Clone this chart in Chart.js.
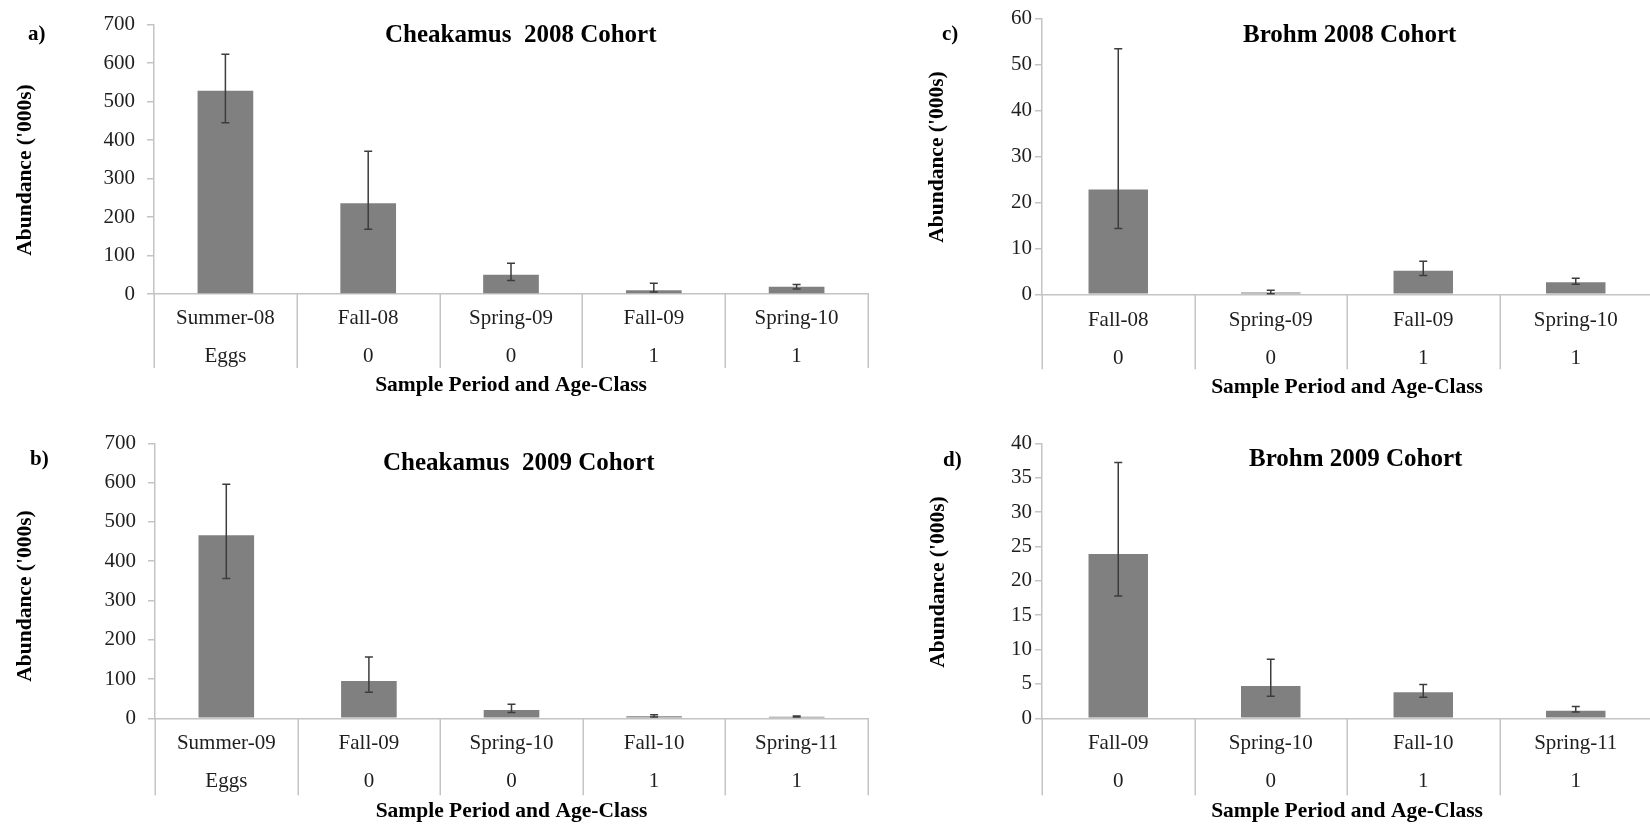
<!DOCTYPE html>
<html><head><meta charset="utf-8">
<script src="https://cdn.jsdelivr.net/npm/chart.js@4/dist/chart.umd.min.js"></script>
<style>
html,body{margin:0;padding:0;width:1650px;height:824px;overflow:hidden;background:#fff}
canvas{position:absolute}
</style></head><body>
<canvas id="ca"></canvas>
<canvas id="cb"></canvas>
<canvas id="cc"></canvas>
<canvas id="cd"></canvas>
<script>
// ---------- data ----------
const panelLabels = ['a)', 'b)', 'c)', 'd)'];
const titles = ['Cheakamus  2008 Cohort', 'Cheakamus  2009 Cohort', 'Brohm 2008 Cohort', 'Brohm 2009 Cohort'];
const yAxisTitle = "Abundance ('000s)";
const xAxisTitle = 'Sample Period and Age-Class';

const periodsA = ['Summer-08', 'Fall-08', 'Spring-09', 'Fall-09', 'Spring-10'];
const agesA    = ['Eggs', '0', '0', '1', '1'];
const valuesA  = [528, 236, 50, 10, 19];
const lowA     = [445, 168, 35, 5, 13];
const highA    = [623, 371, 80, 28, 25];

const periodsB = ['Summer-09', 'Fall-09', 'Spring-10', 'Fall-10', 'Spring-11'];
const agesB    = ['Eggs', '0', '0', '1', '1'];
const valuesB  = [466, 95, 21, 5, 4];
const lowB     = [356, 66, 15, 3, 3];
const highB    = [596, 156, 36, 9, 6];

const periodsC = ['Fall-08', 'Spring-09', 'Fall-09', 'Spring-10'];
const agesC    = ['0', '0', '1', '1'];
const valuesC  = [22.8, 0.4, 5.1, 2.6];
const lowC     = [14.3, 0.1, 4.1, 2.2];
const highC    = [53.4, 0.9, 7.2, 3.5];

const periodsD = ['Fall-09', 'Spring-10', 'Fall-10', 'Spring-11'];
const agesD    = ['0', '0', '1', '1'];
const valuesD  = [23.9, 4.7, 3.8, 1.1];
const lowD     = [17.8, 3.2, 3.05, 0.9];
const highD    = [37.2, 8.6, 4.9, 1.7];

const yMaxes = [700, 700, 60, 40];
const ySteps = [100, 100, 10, 5];

// ---------- layout / style ----------
const FONT = "'Liberation Serif', 'Times New Roman', serif";
const AXIS = '#c4c4c4';
const layouts = [
  {id:'ca', left:0,   top:0,   w:880, h:400, padT:17,   padR:12, yW:154, xH:106,   tickPad:12, xLabPad:5, xTitlePad:2, divLen:74,
   lab:{x:28, y:40}, tit:{x:385, y:42}, yt:{x:25, y:170}},
  {id:'cb', left:0,   top:412, w:880, h:412, padT:31.3, padR:12, yW:155, xH:105.7, tickPad:12, xLabPad:6, xTitlePad:0, divLen:77,
   lab:{x:30, y:53}, tit:{x:383, y:58}, yt:{x:25, y:184}},
  {id:'cc', left:880, top:0,   w:780, h:400, padT:18.3, padR:8,  yW:162, xH:105.7, tickPad:3,  xLabPad:7, xTitlePad:0, divLen:75,
   lab:{x:62, y:40}, tit:{x:363, y:42}, yt:{x:57, y:157}},
  {id:'cd', left:880, top:412, w:780, h:412, padT:31.3, padR:8,  yW:162, xH:105.7, tickPad:3,  xLabPad:6, xTitlePad:0, divLen:77,
   lab:{x:63, y:54}, tit:{x:369, y:54}, yt:{x:58, y:170}}
];
const datasets = [
  [periodsA, agesA, valuesA, lowA, highA],
  [periodsB, agesB, valuesB, lowB, highB],
  [periodsC, agesC, valuesC, lowC, highC],
  [periodsD, agesD, valuesD, lowD, highD]
];

const decorPlugin = {
  id: 'decor',
  afterDatasetsDraw(chart, args, opts) {
    const ctx = chart.ctx, xs = chart.scales.x, ys = chart.scales.y;
    ctx.save();
    ctx.strokeStyle = '#3c3c3c';
    ctx.lineWidth = 1.5;
    opts.low.forEach((lo, i) => {
      const x = xs.getPixelForValue(i);
      const y1 = ys.getPixelForValue(lo), y2 = ys.getPixelForValue(opts.high[i]);
      ctx.beginPath();
      ctx.moveTo(x, y1); ctx.lineTo(x, y2);
      ctx.moveTo(x - 4, y1); ctx.lineTo(x + 4, y1);
      ctx.moveTo(x - 4, y2); ctx.lineTo(x + 4, y2);
      ctx.stroke();
    });
    ctx.restore();
  },
  afterDraw(chart, args, opts) {
    const ctx = chart.ctx, xs = chart.scales.x, area = chart.chartArea;
    const n = chart.data.labels.length;
    ctx.save();
    ctx.strokeStyle = AXIS;
    ctx.lineWidth = 1.5;
    for (let i = 0; i <= n; i++) {
      const bx = Math.round(xs.getPixelForValue(i - 0.5)) + 0.25;
      ctx.beginPath();
      ctx.moveTo(bx, area.bottom);
      ctx.lineTo(bx, area.bottom + opts.divLen);
      ctx.stroke();
    }
    ctx.fillStyle = '#000';
    ctx.textBaseline = 'alphabetic';
    ctx.textAlign = 'left';
    ctx.font = 'bold 21px ' + FONT;
    ctx.fillText(opts.label, opts.lab.x, opts.lab.y);
    ctx.font = 'bold 25px ' + FONT;
    ctx.fillText(opts.title, opts.tit.x, opts.tit.y);
    // y-axis title (rotated, reading bottom to top)
    ctx.translate(opts.yt.x, opts.yt.y);
    ctx.rotate(-Math.PI / 2);
    ctx.textAlign = 'center';
    ctx.textBaseline = 'middle';
    ctx.font = 'bold 21.5px ' + FONT;
    ctx.fillText(opts.yTitle, 0, 0);
    ctx.restore();
  }
};

layouts.forEach((L, k) => {
  const [periods, ages, values, low, high] = datasets[k];
  const cv = document.getElementById(L.id);
  cv.width = L.w; cv.height = L.h;
  cv.style.left = L.left + 'px'; cv.style.top = L.top + 'px';
  cv.style.width = L.w + 'px'; cv.style.height = L.h + 'px';
  new Chart(cv, {
    type: 'bar',
    data: {
      labels: periods.map((p, i) => [p, ages[i]]),
      datasets: [{
        data: values,
        backgroundColor: '#808080',
        borderWidth: 0,
        categoryPercentage: 1,
        barPercentage: 0.39
      }]
    },
    options: {
      responsive: false,
      animation: false,
      devicePixelRatio: 1,
      layout: {padding: {top: L.padT, right: L.padR, left: 0, bottom: 0}},
      plugins: {
        legend: {display: false},
        tooltip: {enabled: false},
        title: {display: false},
        decor: {low: low, high: high, divLen: L.divLen, label: panelLabels[k], title: titles[k],
                lab: L.lab, tit: L.tit, yt: L.yt, yTitle: yAxisTitle}
      },
      scales: {
        x: {
          type: 'category',
          offset: true,
          grid: {display: false, drawTicks: false},
          border: {display: true, color: AXIS, width: 1.5},
          ticks: {
            color: '#1e1e1e', font: {family: FONT, size: 21, lineHeight: 1.81},
            padding: L.xLabPad, maxRotation: 0, minRotation: 0, autoSkip: false
          },
          title: {display: true, text: xAxisTitle, color: '#000',
                  font: {family: FONT, size: 21.5, weight: 'bold', lineHeight: 1.2},
                  padding: {top: 0, bottom: L.xTitlePad}},
          afterFit: s => { s.height = L.xH; }
        },
        y: {
          min: 0, max: yMaxes[k],
          grid: {display: true, drawOnChartArea: false, drawTicks: true, tickLength: 7, color: AXIS, lineWidth: 1.5},
          border: {display: true, color: AXIS, width: 1.5},
          ticks: {stepSize: ySteps[k], color: '#1e1e1e', font: {family: FONT, size: 21}, padding: L.tickPad},
          title: {display: false},
          afterFit: s => { s.width = L.yW; }
        }
      }
    },
    plugins: [decorPlugin]
  });
});
</script>
</body></html>
